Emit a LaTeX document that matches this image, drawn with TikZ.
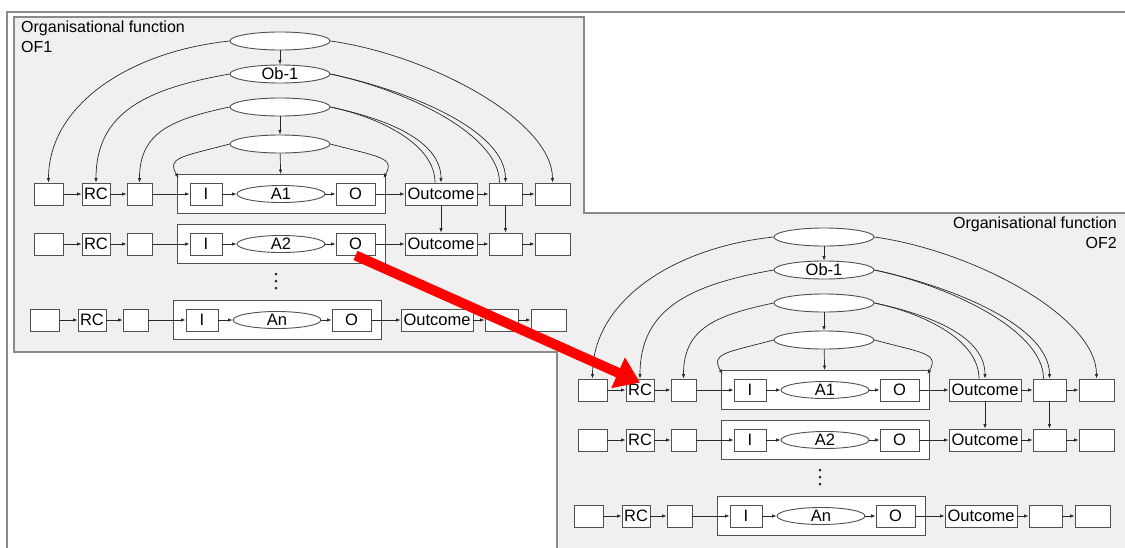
\documentclass[tikz,border=0pt]{standalone}
\usepackage{fontspec}
\setmainfont{Liberation Sans}
\usetikzlibrary{arrows.meta,shapes.geometric}
\definecolor{ofill}{HTML}{F0F0F0}
\definecolor{framec}{HTML}{8A8A8A}
\definecolor{boxc}{HTML}{505050}
\definecolor{linec}{HTML}{2A2A2A}
\tikzset{
  bx/.style={draw=boxc, fill=white, line width=0.9pt, inner sep=0pt, minimum height=22pt},
  ov/.style={ellipse, draw=boxc, fill=white, line width=0.9pt, inner sep=0pt, minimum width=100pt, minimum height=18pt},
  grp/.style={draw=boxc, fill=white, line width=0.9pt, inner sep=0pt, minimum width=208pt, minimum height=39pt},
  arr/.style={draw=linec, line width=0.7pt, -{Latex[length=4.5pt,width=3.5pt]}},
  con/.style={draw=linec, line width=0.7pt},
  framel/.style={draw=framec, line width=1.4pt},
  redarr/.style={draw=red, line width=10pt, -{Triangle[length=24pt,width=32pt]}},
  titlef/.style={font=\fontsize{16}{20}\selectfont, inner sep=0pt},
}
\newcommand\ofrow[4]{%
  \begin{scope}[xshift=#3]
  \node[grp] (#1grp) at (281,#2) {};
  \node[bx,minimum width=29pt] (#1a) at (48.5,#2) {};
  \node[bx,minimum width=28pt] (#1rc) at (96,#2) {RC};
  \node[bx,minimum width=25pt] (#1c) at (139.5,#2) {};
  \node[bx,minimum width=32pt] (#1i) at (206,#2) {I};
  \node[ov,minimum width=88pt,minimum height=17pt] (#1act) at (281,#2) {#4};
  \node[bx,minimum width=39pt] (#1o) at (355.5,#2) {O};
  \node[bx,minimum width=72pt] (#1out) at (441,#2) {Outcome};
  \node[bx,minimum width=33pt] (#1f) at (505.5,#2) {};
  \node[bx,minimum width=35pt] (#1h) at (552.5,#2) {};
  \draw[arr] (#1a) -- (#1rc);
  \draw[arr] (#1rc) -- (#1c);
  \draw[arr] (#1c) -- (#1i);
  \draw[arr] (#1i) -- (#1act);
  \draw[arr] (#1act) -- (#1o);
  \draw[arr] (#1o) -- (#1out);
  \draw[arr] (#1out) -- (#1f);
  \draw[arr] (#1f) -- (#1h);
  \end{scope}}
\newcommand\ofbody[1]{%
  \node[ov] (#1e1) at (280,41) {};
  \node[ov] (#1e2) at (280,74) {Ob-1};
  \node[ov] (#1e3) at (280,107) {};
  \node[ov] (#1e4) at (280,144) {};
  \ofrow{#1r1}{194}{0}{A1}
  \ofrow{#1r2}{244}{0}{A2}
  \ofrow{#1r3}{320}{-4}{An}
  \fill[linec] (276,274) circle (1.5pt) (276,281) circle (1.5pt) (276,288) circle (1.5pt);
  \draw[arr] (#1e1) -- (#1e2);
  \draw[arr] (#1e3) -- (#1e4);
  \draw[arr] (#1e4) -- (#1r1grp);
  \draw[arr] (#1e1.west) to[out=186,in=90,out distance=100pt,in distance=78pt] (#1r1a.north);
  \draw[arr] (#1e1.east) to[out=-8,in=90,out distance=100pt,in distance=62pt] (#1r1h.north);
  \draw[arr] (#1e2.west) to[out=190,in=90,out distance=85pt,in distance=70pt] (#1r1rc.north);
  \draw[arr] (#1e2.east) to[out=-12,in=90,out distance=82pt,in distance=52pt] (#1r1f.north);
  \draw[con] (#1e2.east) to[out=-12,in=90,out distance=78pt,in distance=48pt] ([xshift=-6pt]#1r1f.north);
  \draw[arr] (#1e3.west) to[out=192,in=90,out distance=60pt,in distance=50pt] (#1r1c.north);
  \draw[arr] (#1e3.east) to[out=-12,in=90,out distance=58pt,in distance=42pt] (#1r1out.north);
  \draw[con] (#1e3.east) to[out=-12,in=90,out distance=52pt,in distance=38pt] ([xshift=-6pt]#1r1out.north);
  \draw[arr] (#1e4.west) to[out=195,in=120,out distance=50pt,in distance=24pt] ([shift={(2,4)}]#1r1grp.north west);
  \draw[arr] (#1e4.east) to[out=-15,in=60,out distance=50pt,in distance=24pt] ([shift={(-2,4)}]#1r1grp.north east);
  \draw[arr] (#1r1out) -- (#1r2out);
  \draw[arr] (#1r1f) -- (#1r2f);
}
\begin{document}
\begin{tikzpicture}[x=1pt,y=-1pt,font=\fontsize{16.5}{20}\selectfont]
\useasboundingbox (0,0) rectangle (1125,547);
\clip (0,0) rectangle (1125,547);
% page frame
\draw[framel] (7,560) -- (7,12) -- (1140,12);
% organisational function panels
\fill[ofill] (14,17) rectangle (584,352);
\fill[ofill] (557,213) rectangle (1140,560);
\draw[framel] (557,560) -- (557,352) -- (14,352) -- (14,17) -- (584,17) -- (584,213) -- (1140,213);
\node[titlef, anchor=north west, align=left] (t1) at (21,21) {Organisational function\\OF1};
\node[titlef, anchor=north east, align=right] (t2) at (1117,217) {Organisational function\\OF2};
\ofbody{p}
\begin{scope}[shift={(544,196)}]
\ofbody{q}
\end{scope}
\draw[redarr] (pr2o.south) -- ([yshift=-4pt]qr1rc.north);
\end{tikzpicture}
\end{document}
